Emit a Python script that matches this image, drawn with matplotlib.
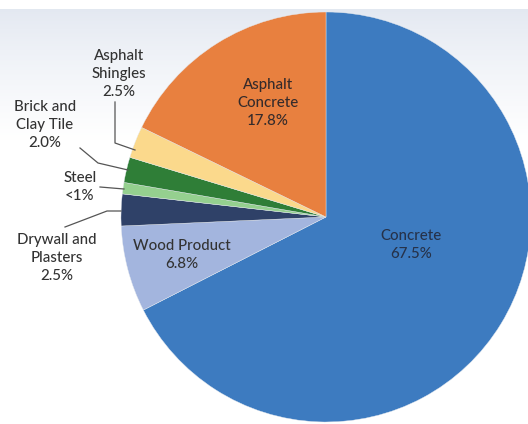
import numpy as np
import matplotlib
matplotlib.use("Agg")
import matplotlib.pyplot as plt

# Share of construction and demolition debris by material
materials = ["Concrete", "Wood Product", "Drywall and\nPlasters", "Steel",
             "Brick and\nClay Tile", "Asphalt\nShingles", "Asphalt\nConcrete"]
shares = [67.5, 6.8, 2.5, 0.9, 2.0, 2.5, 17.8]
share_text = ["67.5%", "6.8%", "2.5%", "<1%", "2.0%", "2.5%", "17.8%"]
colors = ["#3d7bc0", "#a3b5de", "#2f4168", "#95d08f", "#2f7e37", "#fbd98c", "#e8803f"]

W, H = 528, 424
fig = plt.figure(figsize=(W / 100, H / 100), dpi=100)
ax = fig.add_axes([0, 0, 1, 1])

# soft grey-blue wash at the top fading to white
grad = np.ones((H, 1, 3))
top = np.array([0.89, 0.91, 0.945])
for r in range(H):
    if 9 <= r < 140:
        t = (r - 9) / 131.0
        grad[r, 0] = top + (1 - top) * t ** 0.8
ax.imshow(grad, extent=[0, W, 0, H], aspect="auto", zorder=0)

cx, cy, rad = 326, H - 217, 205
wedges, _ = ax.pie(shares, colors=colors, startangle=90, counterclock=False,
                   center=(cx, cy), radius=rad,
                   wedgeprops=dict(linewidth=0.3, edgecolor="#e4e9ef"))
for w in wedges:
    w.set_zorder(2)

ax.set_xlim(0, W)
ax.set_ylim(0, H)
ax.set_aspect("auto")
ax.axis("off")

font = dict(family=["Lato", "DejaVu Sans"], fontsize=10.8, fontweight="medium",
            ha="center", va="center", linespacing=1.38, zorder=5)

# label anchor points in pixel space (x, y from top)
label_pos = [(411, 245), (182, 255), (57, 258), (80, 187),
             (45, 125), (119, 74), (268, 103)]
label_color = ["#26324a", "#333333", "#333333", "#333333",
               "#333333", "#333333", "#352b2b"]
for name, txt, (x, y), c in zip(materials, share_text, label_pos, label_color):
    ax.text(x, H - y, f"{name}\n{txt}", color=c, **font)

# leader lines for the small slices
leaders = [
    [(115, 102), (115, 143), (135, 150)],
    [(80, 148), (98, 163), (128, 170)],
    [(100, 187), (124, 189)],
    [(65, 227), (107, 211), (121, 211)],
]
for pts in leaders:
    xs = [p[0] for p in pts]
    ys = [H - p[1] for p in pts]
    ax.plot(xs, ys, color="#555555", lw=0.9, zorder=4)

fig.savefig("out.png", dpi=100)
